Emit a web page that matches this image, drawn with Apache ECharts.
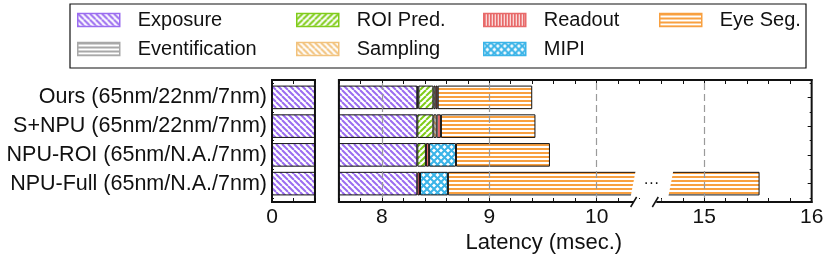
<!DOCTYPE html>
<html><head><meta charset="utf-8">
<script src="https://cdn.jsdelivr.net/npm/echarts@6/dist/echarts.min.js"></script>
<style>html,body{margin:0;padding:0;background:#fff}#c{width:830px;height:261px}</style>
</head><body><div id="c"></div>
<script>
// ---------- data ----------
const categories = ['Ours (65nm/22nm/7nm)', 'S+NPU (65nm/22nm/7nm)', 'NPU-ROI (65nm/N.A./7nm)', 'NPU-Full (65nm/N.A./7nm)'];
const exposure       = [8.33, 8.33, 8.33, 8.33];
const eventification = [0.01, 0, 0, 0];
const roiPred        = [0.14, 0.15, 0.08, 0];
const sampling       = [0.02, 0.03, 0, 0];
const readout        = [0.02, 0.04, 0.03, 0.025];
const mipi           = [0, 0, 0.25, 0.26];
const eyeSeg         = [0.88, 0.88, 0.875, 6.9];
const xTickLabels    = [0, 8, 9, 10, 15, 16];
const gridLineValues = [8, 9, 10, 15];
const panelRanges    = [[0, 0.4], [7.6, 10.4], [14.6, 16]];
const legendColumns  = [['Exposure', 'Eventification'], ['ROI Pred.', 'Sampling'], ['Readout', 'MIPI'], ['Eye Seg.']];
const axisTitle = 'Latency (msec.)';

// ---------- styles / layout ----------
const FONT = '"Liberation Sans", Arial, Helvetica, sans-serif';
const FS = 20;
const PX = 107.4;              // pixels per msec
const GT = 83, GB = 198;       // band area
const FT = 80, FB = 202;       // frame
const panelLeft = [272, 338.9, 661.3];
const legendLeft = [77, 296, 483, 659];
const INK = '#111';

const seriesDefs = [
  { name: 'Exposure',       data: exposure,       kind: 'back', color: '#9a6cf0' },
  { name: 'Eventification', data: eventification, kind: 'h',    color: '#a8a8a8' },
  { name: 'ROI Pred.',      data: roiPred,        kind: 'fwd',  color: '#80cc1a' },
  { name: 'Sampling',       data: sampling,       kind: 'back', color: '#f2c27c' },
  { name: 'Readout',        data: readout,        kind: 'v',    color: '#e86a6a' },
  { name: 'MIPI',           data: mipi,           kind: 'x',    color: '#3ab4e8' },
  { name: 'Eye Seg.',       data: eyeSeg,         kind: 'h',    color: '#f8a040' }
];

function makePattern(kind, color) {
  const c = document.createElement('canvas');
  let w = 6, h = 6;
  if (kind === 'h') { w = 4; h = 4; }
  if (kind === 'v') { w = 3; h = 3; }
  if (kind === 'x') { w = 7; h = 7; }
  c.width = w; c.height = h;
  const g = c.getContext('2d');
  g.fillStyle = '#fff'; g.fillRect(0, 0, w, h);
  g.fillStyle = color; g.strokeStyle = color;
  if (kind === 'h') g.fillRect(0, 0, w, 2);
  else if (kind === 'v') g.fillRect(0, 0, 2, h);
  else {
    g.lineWidth = 2;
    const dirs = kind === 'back' ? [1] : kind === 'fwd' ? [-1] : [1, -1];
    dirs.forEach(d => {
      for (let k = -w; k <= w; k += w) {
        g.beginPath();
        if (d === 1) { g.moveTo(k, 0); g.lineTo(k + w, h); }
        else { g.moveTo(k, h); g.lineTo(k + w, 0); }
        g.stroke();
      }
    });
  }
  return c;
}
const patterns = seriesDefs.map(d => makePattern(d.kind, d.color));
const colorOf = {};
seriesDefs.forEach(d => colorOf[d.name] = d.color);

const isInt = v => Math.abs(v - Math.round(v)) < 1e-6;

// grids
const grids = panelRanges.map((r, gi) => ({
  left: panelLeft[gi], top: GT, width: (r[1] - r[0]) * PX, height: GB - GT, containLabel: false
}));

// x axes: bottom (0..2), top (3..5)
const xAxes = [];
['bottom', 'top'].forEach(pos => {
  panelRanges.forEach((r, gi) => {
    xAxes.push({
      type: 'value', gridIndex: gi, position: pos, min: r[0], max: r[1], interval: 0.2,
      offset: pos === 'bottom' ? FB - GB : GT - FT, z: 4,
      axisLine: { show: true, onZero: false, lineStyle: { color: INK, width: 2 } },
      axisTick: { show: true, inside: true, length: 4, lineStyle: { color: INK, width: 1 } },
      axisLabel: {
        show: pos === 'bottom', margin: 5, fontSize: 21, color: INK, fontFamily: FONT,
        showMinLabel: true, showMaxLabel: true,
        formatter: v => (isInt(v) && xTickLabels.indexOf(Math.round(v)) >= 0) ? String(Math.round(v)) : ''
      },
      splitLine: { show: false }, minorTick: { show: false }
    });
  });
});

// y axes
const yAxes = panelRanges.map((r, gi) => ({
  type: 'category', gridIndex: gi, data: categories, inverse: true,
  position: gi === 2 ? 'right' : 'left',
  axisLine: { show: false },
  axisTick: { show: gi !== 1, inside: true, alignWithLabel: true, length: 4, lineStyle: { color: INK, width: 1 } },
  axisLabel: { show: gi === 0, margin: 5, fontSize: 21.5, color: INK, fontFamily: FONT },
  splitLine: { show: false }
}));
[0, 2].forEach(gi => yAxes.push({
  type: 'category', gridIndex: gi, data: categories, inverse: true,
  position: gi === 2 ? 'right' : 'left',
  axisLine: { show: false },
  axisTick: { show: true, inside: true, length: 2, lineStyle: { color: INK, width: 1 } },
  axisLabel: { show: false }, splitLine: { show: false }
}));

// series
const series = [];
panelRanges.forEach((r, gi) => {
  seriesDefs.forEach((d, si) => {
    const s = {
      type: 'bar', name: d.name, stack: 'panel' + gi, xAxisIndex: gi, yAxisIndex: gi,
      barWidth: '82%', clip: true, animation: false,
      data: d.data.map(v => v > 0 ? v : '-'),
      itemStyle: { color: { image: patterns[si], repeat: 'repeat' }, borderColor: INK, borderWidth: 1 },
      emphasis: { disabled: true }, silent: true
    };
    if (si === seriesDefs.length - 1) {
      const lines = gridLineValues.filter(v => v > r[0] && v < r[1]);
      if (lines.length) s.markLine = {
        silent: true, animation: false, symbol: ['none', 'none'], label: { show: false },
        lineStyle: { color: '#9a9a9a', type: [7, 4], width: 1.2 },
        data: lines.map(v => ({ xAxis: v }))
      };
    }
    series.push(s);
  });
});

// legends
const legends = legendColumns.map((names, i) => ({
  orient: 'vertical', left: legendLeft[i], top: 10, padding: 0,
  itemWidth: 42, itemHeight: 13, itemGap: 9, icon: 'rect', selectedMode: false,
  data: names.map(n => ({ name: n, itemStyle: { borderColor: colorOf[n], borderWidth: 1.5 } })),
  textStyle: { fontSize: FS, fontFamily: FONT, color: INK, lineHeight: 20, padding: [0, 0, 0, 13] }
}));

const chart = echarts.init(document.getElementById('c'), null, { renderer: 'canvas' });
chart.setOption({
  animation: false, backgroundColor: '#fff',
  grid: grids, xAxis: xAxes, yAxis: yAxes, series: series, legend: legends
});

// ---------- decorations computed from the scales ----------
const xEnd = chart.convertToPixel({ xAxisIndex: 1 }, panelRanges[1][1]);
const xStart2 = chart.convertToPixel({ xAxisIndex: 2 }, panelRanges[2][0]);
const x0L = chart.convertToPixel({ xAxisIndex: 0 }, panelRanges[0][0]);
const x0R = chart.convertToPixel({ xAxisIndex: 0 }, panelRanges[0][1]);
const x1L = chart.convertToPixel({ xAxisIndex: 1 }, panelRanges[1][0]);
const x2R = chart.convertToPixel({ xAxisIndex: 2 }, panelRanges[2][1]);
const yFull = chart.convertToPixel({ yAxisIndex: 2 }, categories[3]);
const half = (GB - GT) / categories.length * 0.82 / 2;
const yT = yFull - half - 1, yB = yFull + half + 1.5;

const vline = x => ({ type: 'line', z: 100, shape: { x1: x, y1: FT - 1, x2: x, y2: FB + 1 }, style: { stroke: INK, lineWidth: 2 } });
const graphic = [
  { type: 'rect', z: 100, shape: { x: 70, y: 4, width: 736, height: 64 }, style: { fill: 'none', stroke: INK, lineWidth: 1.2 } },
  vline(x0L), vline(x0R), vline(x1L), vline(x2R),
  { type: 'line', z: 100, shape: { x1: xEnd, y1: FT, x2: xStart2, y2: FT }, style: { stroke: INK, lineWidth: 2 } },
  { type: 'polygon', z: 90, shape: { points: [[xEnd - 4, yT], [xStart2 + 12, yT], [xStart2 + 7, yB], [xEnd - 9, yB]] }, style: { fill: '#fff' } },
  { type: 'text', z: 100, x: (xEnd + xStart2) / 2 + 1, y: yFull, style: { text: '···', fill: INK, font: '16px ' + FONT, align: 'center', verticalAlign: 'middle' } },
  { type: 'rect', z: 95, shape: { x: xEnd - 6, y: FB - 3, width: xStart2 - xEnd + 6, height: 6 }, style: { fill: '#fff' } },
  { type: 'line', z: 100, shape: { x1: xEnd - 9, y1: FB + 5, x2: xEnd - 3, y2: FB - 5 }, style: { stroke: INK, lineWidth: 1.5 } },
  { type: 'line', z: 100, shape: { x1: xStart2 - 9, y1: FB + 5, x2: xStart2 - 3, y2: FB - 5 }, style: { stroke: INK, lineWidth: 1.5 } },
  { type: 'line', z: 100, shape: { x1: xStart2 - 5, y1: FB, x2: xStart2 + 1, y2: FB }, style: { stroke: INK, lineWidth: 2 } },
  { type: 'text', z: 100, x: (x0L + x2R) / 2 + 2, y: 243, style: { text: axisTitle, fill: INK, font: '22px ' + FONT, align: 'center', verticalAlign: 'middle' } }
];
chart.setOption({ graphic: graphic });
</script>
</body></html>
